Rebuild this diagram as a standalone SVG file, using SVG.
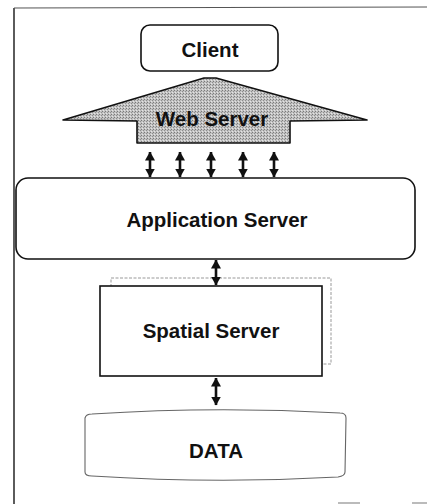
<svg xmlns="http://www.w3.org/2000/svg" width="427" height="504" viewBox="0 0 427 504">
<style>
  .lbl { font-family: "Liberation Sans", Arial, sans-serif; font-weight: bold; font-size: 20.5px; fill: #111; text-anchor: middle; }
  .box { fill: #fff; stroke: #111; stroke-width: 1.6; }
  .conn { stroke: #111; stroke-width: 2.6; fill: none; marker-start: url(#ah); marker-end: url(#ah); }
</style>
<defs>
  <marker id="ah" viewBox="0 0 9 10" refX="8.5" refY="5" markerWidth="9" markerHeight="10" markerUnits="userSpaceOnUse" orient="auto-start-reverse">
    <path d="M0,0 L9,5 L0,10 z" fill="#111"/>
  </marker>
  <pattern id="dither" width="3" height="3" patternUnits="userSpaceOnUse">
    <rect width="3" height="3" fill="#c2c2c2"/>
    <rect x="0" y="0" width="1" height="1" fill="#7a7a7a"/>
    <rect x="2" y="1" width="1" height="1" fill="#8e8e8e"/>
    <rect x="1" y="2" width="1" height="1" fill="#e4e4e4"/>
  </pattern>
</defs>
<rect width="427" height="504" fill="#fff"/>
<g id="frame" stroke="#333" fill="none">
  <line x1="14" y1="8" x2="14" y2="504" stroke-width="1.6"/>
  <line x1="14" y1="8" x2="427" y2="7" stroke-width="1.2" stroke="#555"/>
  <line x1="338" y1="503" x2="360" y2="503" stroke="#bbb" stroke-width="2"/>
  <line x1="412" y1="503" x2="427" y2="503" stroke="#bbb" stroke-width="2"/>
</g>
<g id="client">
  <rect class="box" x="141" y="25" width="137" height="46" rx="9"/>
  <text class="lbl" x="210" y="57">Client</text>
</g>
<g id="webserver">
  <polygon points="63,120 204,78 216,78 367,120 290,121 290,143 137,143 137,121" fill="url(#dither)" stroke="#111" stroke-width="1.6" stroke-linejoin="round"/>
  <text class="lbl" x="212" y="126">Web Server</text>
</g>
<g id="appserver">
  <rect class="box" x="16" y="178" width="399" height="81" rx="12"/>
  <text class="lbl" x="217" y="227">Application Server</text>
</g>
<g id="spatialserver">
  <rect x="111" y="278" width="220" height="86" fill="none" stroke="#999" stroke-width="1" stroke-dasharray="3,1.5"/>
  <rect class="box" x="100" y="286" width="222" height="90"/>
  <text class="lbl" x="211" y="338">Spatial Server</text>
</g>
<g id="data">
  <path d="M85,418 Q86,414 92,414 Q215,406 340,413 Q346,413 346,418 L345,472 Q345,476 338,477 Q215,484 92,476 Q85,476 85,472 Z" fill="#fff" stroke="#666" stroke-width="1.1"/>
  <text class="lbl" x="216" y="458">DATA</text>
</g>
<g id="connectors">
  <line class="conn" x1="150" y1="152" x2="150" y2="177"/>
  <line class="conn" x1="180" y1="152" x2="180" y2="177"/>
  <line class="conn" x1="211" y1="152" x2="211" y2="177"/>
  <line class="conn" x1="243" y1="152" x2="243" y2="177"/>
  <line class="conn" x1="274" y1="152" x2="274" y2="177"/>
  <line class="conn" x1="216" y1="260" x2="216" y2="285"/>
  <line class="conn" x1="216" y1="378" x2="216" y2="405"/>
</g>
</svg>
